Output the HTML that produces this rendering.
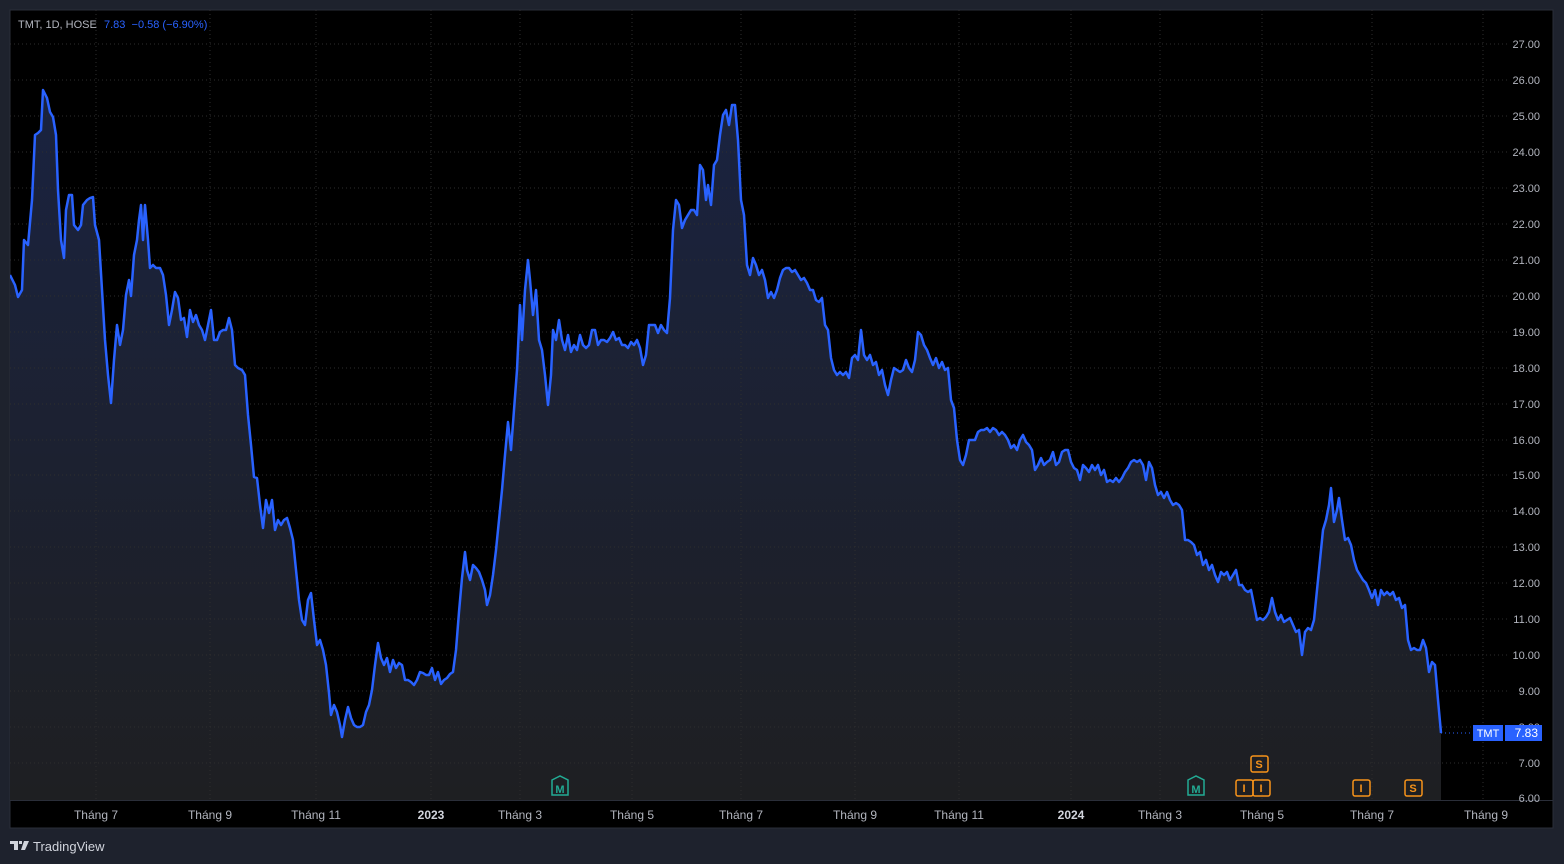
<!DOCTYPE html>
<html><head><meta charset="utf-8"><style>
body{margin:0;background:#1e222d;width:1564px;height:864px;overflow:hidden;font-family:"Liberation Sans",sans-serif}
svg{position:absolute;left:0;top:0}
</style></head><body>
<svg width="1564" height="864" viewBox="0 0 1564 864" font-family="Liberation Sans, sans-serif">
<defs>
<linearGradient id="g" x1="0" y1="90" x2="0" y2="800" gradientUnits="userSpaceOnUse">
<stop offset="0" stop-color="#1a2340"/><stop offset="1" stop-color="#1e1f22"/>
</linearGradient>
<clipPath id="c"><rect x="10" y="10" width="1498" height="790"/></clipPath>
</defs>
<rect x="10" y="10" width="1543" height="818" fill="#000" stroke="#2a2e39" stroke-width="1"/>
<g clip-path="url(#c)">
<polygon id="area" fill="url(#g)" points=""/>
<g stroke="#2e2e2e" stroke-dasharray="1,3" stroke-width="1">
<line x1="10" x2="1508" y1="44" y2="44"/><line x1="10" x2="1508" y1="80" y2="80"/><line x1="10" x2="1508" y1="116" y2="116"/><line x1="10" x2="1508" y1="152" y2="152"/><line x1="10" x2="1508" y1="188" y2="188"/><line x1="10" x2="1508" y1="224" y2="224"/><line x1="10" x2="1508" y1="260" y2="260"/><line x1="10" x2="1508" y1="296" y2="296"/><line x1="10" x2="1508" y1="332" y2="332"/><line x1="10" x2="1508" y1="368" y2="368"/><line x1="10" x2="1508" y1="404" y2="404"/><line x1="10" x2="1508" y1="440" y2="440"/><line x1="10" x2="1508" y1="475" y2="475"/><line x1="10" x2="1508" y1="511" y2="511"/><line x1="10" x2="1508" y1="547" y2="547"/><line x1="10" x2="1508" y1="583" y2="583"/><line x1="10" x2="1508" y1="619" y2="619"/><line x1="10" x2="1508" y1="655" y2="655"/><line x1="10" x2="1508" y1="691" y2="691"/><line x1="10" x2="1508" y1="727" y2="727"/><line x1="10" x2="1508" y1="763" y2="763"/>
<line y1="10" y2="800" x1="96" x2="96"/><line y1="10" y2="800" x1="210" x2="210"/><line y1="10" y2="800" x1="316" x2="316"/><line y1="10" y2="800" x1="431" x2="431"/><line y1="10" y2="800" x1="520" x2="520"/><line y1="10" y2="800" x1="632" x2="632"/><line y1="10" y2="800" x1="741" x2="741"/><line y1="10" y2="800" x1="855" x2="855"/><line y1="10" y2="800" x1="959" x2="959"/><line y1="10" y2="800" x1="1071" x2="1071"/><line y1="10" y2="800" x1="1160" x2="1160"/><line y1="10" y2="800" x1="1262" x2="1262"/><line y1="10" y2="800" x1="1372" x2="1372"/><line y1="10" y2="800" x1="1483" x2="1483"/>
</g>
<line x1="1441" x2="1508" y1="733" y2="733" stroke="#2962ff" stroke-dasharray="1,3"/>
<polyline id="ln" fill="none" stroke="#2962ff" stroke-width="2.5" stroke-linejoin="round" points=""/>
</g>
<line x1="10" x2="1553" y1="800.5" y2="800.5" stroke="#2a2e39"/>
<g fill="#b2b5be" font-size="11" text-anchor="end">
<text x="1540" y="48">27.00</text><text x="1540" y="84">26.00</text><text x="1540" y="120">25.00</text><text x="1540" y="156">24.00</text><text x="1540" y="192">23.00</text><text x="1540" y="228">22.00</text><text x="1540" y="264">21.00</text><text x="1540" y="300">20.00</text><text x="1540" y="336">19.00</text><text x="1540" y="372">18.00</text><text x="1540" y="408">17.00</text><text x="1540" y="444">16.00</text><text x="1540" y="479">15.00</text><text x="1540" y="515">14.00</text><text x="1540" y="551">13.00</text><text x="1540" y="587">12.00</text><text x="1540" y="623">11.00</text><text x="1540" y="659">10.00</text><text x="1540" y="695">9.00</text><text x="1540" y="731">8.00</text><text x="1540" y="767">7.00</text><text x="1540" y="802">6.00</text>
</g>
<rect x="1473" y="725" width="30" height="16" fill="#2962ff"/><rect x="1505" y="725" width="37" height="16" fill="#2962ff"/>
<text x="1488" y="737" fill="#fff" font-size="11" text-anchor="middle">TMT</text><text x="1538" y="737" fill="#fff" font-size="12" text-anchor="end">7.83</text>
<g fill="#b2b5be" font-size="12" text-anchor="middle">
<text x="96" y="819">Tháng 7</text><text x="210" y="819">Tháng 9</text><text x="316" y="819">Tháng 11</text><text x="431" y="819" font-weight="bold" fill="#d1d4dc">2023</text><text x="520" y="819">Tháng 3</text><text x="632" y="819">Tháng 5</text><text x="741" y="819">Tháng 7</text><text x="855" y="819">Tháng 9</text><text x="959" y="819">Tháng 11</text><text x="1071" y="819" font-weight="bold" fill="#d1d4dc">2024</text><text x="1160" y="819">Tháng 3</text><text x="1262" y="819">Tháng 5</text><text x="1372" y="819">Tháng 7</text><text x="1486" y="819">Tháng 9</text>
</g>
<rect x="1509" y="806" width="43" height="20" fill="#000"/>
<text x="18" y="28" font-size="11" fill="#b2b5be">TMT, 1D, HOSE</text>
<text x="104" y="28" font-size="11" fill="#2962ff">7.83 &#160;−0.58 (−6.90%)</text>
<g font-size="11" text-anchor="middle" font-weight="bold">
<path d="M552 780 l8 -4 l8 4 v15 h-16z" fill="none" stroke="#22ab94" stroke-width="1.5"/><text x="560" y="793" fill="#22ab94">M</text>
<path d="M1188 780 l8 -4 l8 4 v15 h-16z" fill="none" stroke="#22ab94" stroke-width="1.5"/><text x="1196" y="793" fill="#22ab94">M</text>
<g fill="none" stroke="#f7931a" stroke-width="1.5"><rect x="1251" y="756" width="17" height="16" rx="2"/><rect x="1236" y="780" width="17" height="16" rx="2"/><rect x="1253" y="780" width="17" height="16" rx="2"/><rect x="1353" y="780" width="17" height="16" rx="2"/><rect x="1405" y="780" width="17" height="16" rx="2"/></g>
<g fill="#f7931a"><text x="1259" y="768">S</text><text x="1244" y="792">I</text><text x="1261" y="792">I</text><text x="1361" y="792">I</text><text x="1413" y="792">S</text></g>
</g>
<path d="M10 841 h8 v9 h-4 v-6 h-4z M19 841 h3 v3 h-3z M24 841 h5 l-4 9 h-4z" fill="#d1d4dc"/>
<text x="33" y="851" font-size="13" fill="#d1d4dc">TradingView</text>
</svg>
<script>
var p="10,275 15,285 18,297 22,290 24,240 28,245 32,200 35,135 38,133 41,130 43,90 47,98 50,112 53,117 56,135 58,190 61,240 64,258 66,210 69,195 72,195 74,225 78,230 81,225 83,205 87,200 90,198 93,197 95,225 99,240 102,290 105,340 108,375 111,403 114,360 117,325 120,345 123,330 126,295 129,280 131,296 134,255 137,240 139,220 141,205 143,240 145,205 148,240 150,268 153,265 156,268 160,268 163,275 166,295 169,325 172,310 175,292 178,298 181,320 184,318 187,337 190,310 193,322 196,315 199,325 202,330 205,340 208,325 211,310 214,340 217,340 220,332 223,330 226,330 229,318 232,330 235,365 238,368 242,370 245,375 248,415 251,445 254,477 257,478 260,505 263,528 266,500 269,513 272,500 275,530 278,520 281,525 284,520 287,518 290,528 293,540 296,570 299,600 302,620 305,625 308,600 311,593 314,620 317,645 320,640 323,650 326,665 329,693 331,715 334,705 337,712 340,725 342,737 345,720 348,707 351,718 354,725 357,727 360,727 363,725 366,712 369,705 372,690 375,665 378,643 381,658 384,665 387,658 390,672 393,660 396,668 399,663 402,665 405,680 408,680 411,682 414,685 417,680 420,672 423,673 426,675 429,675 432,668 435,680 438,672 441,684 444,680 447,678 450,674 453,672 456,650 459,612 462,578 465,552 467,570 470,580 473,565 476,568 479,572 482,580 485,590 487,605 490,595 493,575 496,550 499,520 502,490 505,455 508,422 511,450 514,410 517,370 520,305 522,340 525,290 528,260 530,280 533,315 536,290 539,340 542,350 545,375 548,405 551,375 553,330 556,340 559,320 562,340 565,350 568,335 571,352 574,345 577,350 580,335 583,345 586,348 589,345 592,330 595,330 598,345 601,340 604,340 607,342 610,338 613,332 616,340 619,338 622,345 625,345 628,348 631,342 634,345 637,340 640,348 643,365 646,355 649,325 652,325 655,325 658,333 661,325 664,330 667,333 670,298 673,230 676,200 679,205 682,228 685,220 688,215 691,210 694,210 697,215 700,165 703,170 706,200 708,185 711,205 714,165 717,160 720,135 723,115 726,110 729,125 732,105 735,105 738,140 741,200 744,215 747,265 750,275 753,258 756,265 759,275 762,270 765,280 768,298 771,292 774,298 777,290 780,278 783,270 786,268 789,268 792,272 795,270 798,275 801,280 804,278 807,283 810,290 813,290 816,300 819,302 822,298 825,325 828,330 831,358 834,370 837,375 840,372 843,375 846,372 849,378 852,358 855,355 858,360 861,330 864,355 867,360 870,355 873,365 876,362 879,375 882,370 885,385 888,395 891,380 894,368 897,370 900,372 903,370 906,360 909,368 912,372 915,360 918,332 921,335 924,345 927,350 930,358 933,365 936,358 939,368 942,362 945,370 948,368 951,400 954,408 957,440 960,460 963,465 966,455 969,440 972,440 975,440 978,432 981,430 984,430 987,428 990,432 993,428 996,430 999,435 1002,432 1005,435 1008,440 1011,448 1014,445 1017,450 1020,440 1023,435 1026,442 1029,445 1032,450 1035,470 1038,465 1041,458 1044,465 1047,462 1050,460 1053,452 1056,465 1059,462 1062,452 1065,450 1068,450 1071,462 1074,468 1077,470 1080,480 1083,465 1086,468 1089,472 1092,465 1095,470 1098,465 1101,475 1104,470 1107,482 1110,480 1113,482 1116,478 1119,482 1122,478 1125,472 1128,468 1131,462 1134,460 1137,462 1140,460 1143,465 1146,480 1149,462 1152,468 1155,485 1158,495 1161,492 1164,498 1167,492 1170,500 1173,505 1176,503 1179,505 1182,510 1185,540 1188,540 1191,542 1194,545 1197,555 1200,552 1203,565 1206,560 1209,570 1212,565 1215,575 1218,582 1221,572 1224,575 1227,572 1230,580 1233,575 1236,570 1239,585 1242,585 1245,590 1248,592 1251,590 1254,605 1257,620 1260,618 1263,620 1266,617 1269,612 1272,598 1275,612 1278,620 1281,615 1284,622 1287,620 1290,618 1293,625 1296,632 1299,630 1302,655 1305,632 1308,628 1311,630 1314,620 1317,590 1320,560 1323,530 1326,520 1329,505 1331,488 1334,522 1337,510 1339,498 1342,520 1345,540 1348,538 1351,545 1354,560 1357,570 1360,575 1363,580 1366,583 1369,590 1372,598 1375,590 1378,605 1381,590 1384,595 1387,592 1390,595 1393,592 1396,600 1399,598 1402,608 1405,605 1408,640 1411,650 1414,648 1417,650 1420,650 1423,640 1426,648 1429,672 1432,662 1435,665 1438,700 1441,733";
document.getElementById('ln').setAttribute('points',p);
document.getElementById('area').setAttribute('points',p+" 1441,800 10,800");
</script>
</body></html>
